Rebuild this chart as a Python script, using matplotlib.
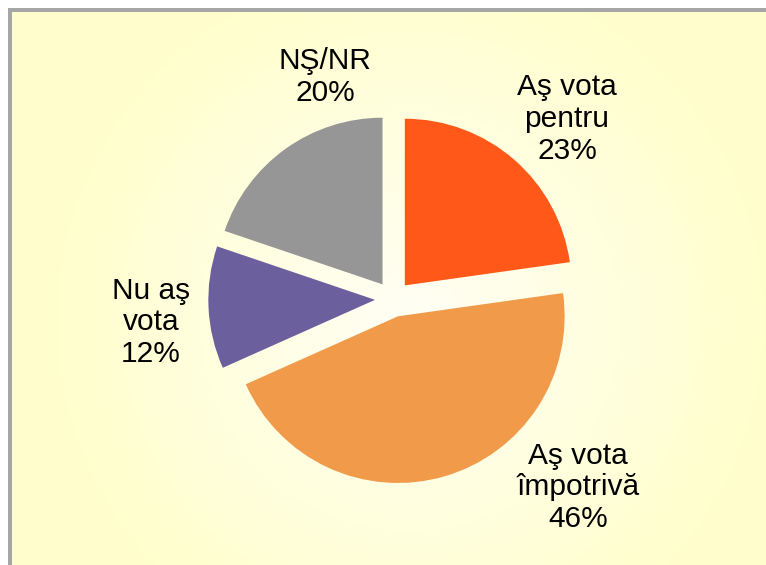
import numpy as np
import matplotlib
matplotlib.use("Agg")
import matplotlib.pyplot as plt
from matplotlib.patches import Rectangle

# ---- data ----
categories = ["Aş vota\npentru", "Aş vota\nîmpotrivă", "Nu aş\nvota", "NŞ/NR"]
values = [23, 46, 12, 20]
colors = ["#FF5819", "#F09A4A", "#6B5F9E", "#969696"]

W, H = 766, 565
fig = plt.figure(figsize=(W / 100, H / 100), dpi=100)
fig.patch.set_facecolor("white")

# background axes in pixel coordinates
bg = fig.add_axes([0, 0, 1, 1])
bg.add_patch(Rectangle((8, 8), W, H, facecolor="#A6A6A6", edgecolor="none", zorder=1))
yy, xx = np.mgrid[0:H, 0:W]
r = np.hypot(xx - 410, yy - 320)
t = np.clip(r / 360.0, 0, 1)
c0 = np.array([1.0, 1.0, 0.96])
c1 = np.array([1.0, 0.996, 0.80])
img = c0[None, None, :] * (1 - t[..., None]) + c1[None, None, :] * t[..., None]
bg.imshow(img[12:, 12:], extent=(12, W, H, 12), aspect="auto",
          interpolation="bilinear", zorder=2)
bg.set_xlim(0, W)
bg.set_ylim(H, 0)
bg.axis("off")

# pie axes: centre at (393, 298) px, 1 unit = 166.7 px
cx, cy, half = 393, 299, 250
ax = fig.add_axes([(cx - half) / W, (H - cy - half) / H, 2 * half / W, 2 * half / H])
wedges, _ = ax.pie(values, colors=colors, startangle=90, counterclock=False,
                   explode=[0.108] * len(values),
                   wedgeprops=dict(linewidth=0, edgecolor="none"))
ax.set_xlim(-1.5, 1.5)
ax.set_ylim(-1.5, 1.5)
ax.axis("off")

label_pos = [(1.044, 1.08), (1.11, -1.13), (-1.452, -0.14), (-0.408, 1.33)]
for cat, v, (lx, ly) in zip(categories, values, label_pos):
    ax.text(lx, ly, f"{cat}\n{v}%", ha="center", va="center", fontsize=21.5,
            family=["Liberation Sans", "DejaVu Sans"], linespacing=1.17, color="black")

fig.savefig("out.png", dpi=100)
